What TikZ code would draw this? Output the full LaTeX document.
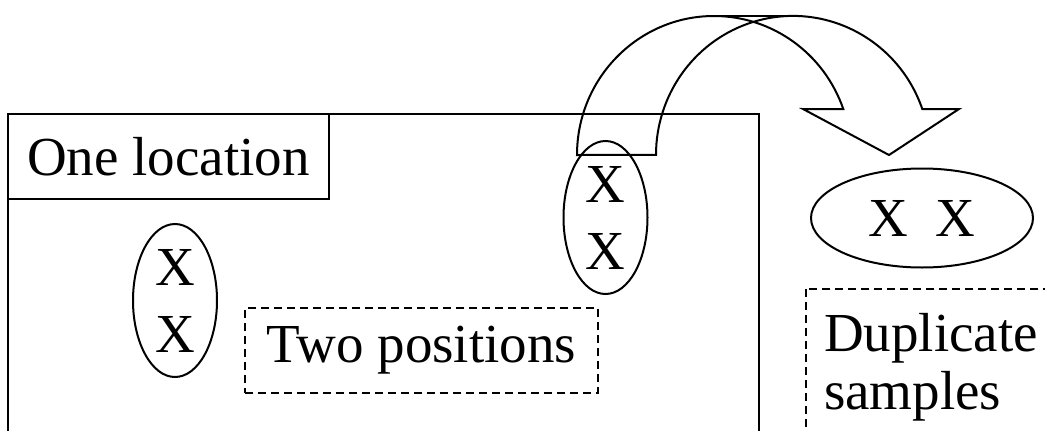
\documentclass[tikz,border=0pt]{standalone}
\usepackage{fontspec}
\setmainfont{Liberation Serif}
\usetikzlibrary{shapes.geometric}

\begin{document}
\begin{tikzpicture}[x=0.5pt,y=0.5pt, line width=1pt,
  txt/.style={font=\fontsize{27.5}{33.5}\selectfont, inner sep=0pt},
  solidbox/.style={txt, draw, minimum width=160.5pt, minimum height=42.5pt},
  dashbox/.style={dash pattern=on 4pt off 2.5pt},
  pair/.style={txt, draw, ellipse, align=center, minimum width=42pt, minimum height=76.5pt}]
\useasboundingbox (0,0) rectangle (1045,430);
\clip (0,0) rectangle (1045,430);
% one location
\draw (8,316) rectangle (759,-20);
\node[solidbox] (loc) at (168.5,273.5) {One location};
\node[pair] (pairL) at (175,129.5) {X\\X};
\node[pair] (pairR) at (605.5,212.5) {X\\X};
\node[txt, draw, dashbox, minimum width=176.5pt, minimum height=42.5pt] (twopos) at (421.5,79.5) {Two positions};
% duplicates
\node[txt, draw, ellipse, minimum width=111pt, minimum height=49.5pt] (dupX) at (922,212) {X~~X};
\draw[dashbox] (806,141) rectangle (1060,-20);
\node[txt, align=left, anchor=north west, font=\fontsize{27.5}{29}\selectfont] (dup) at (823,117.6) {Duplicate\\samples};
% curved arrow
\draw[line join=miter] (577,275) arc[start angle=180, end angle=19.3, x radius=137, y radius=139]
  -- (803,321) -- (889,275) -- (959,321) -- (922.3,321)
  arc[start angle=19.3, end angle=180, x radius=137, y radius=139] -- cycle;
\draw (714,414) -- (793,414);
\end{tikzpicture}
\end{document}
